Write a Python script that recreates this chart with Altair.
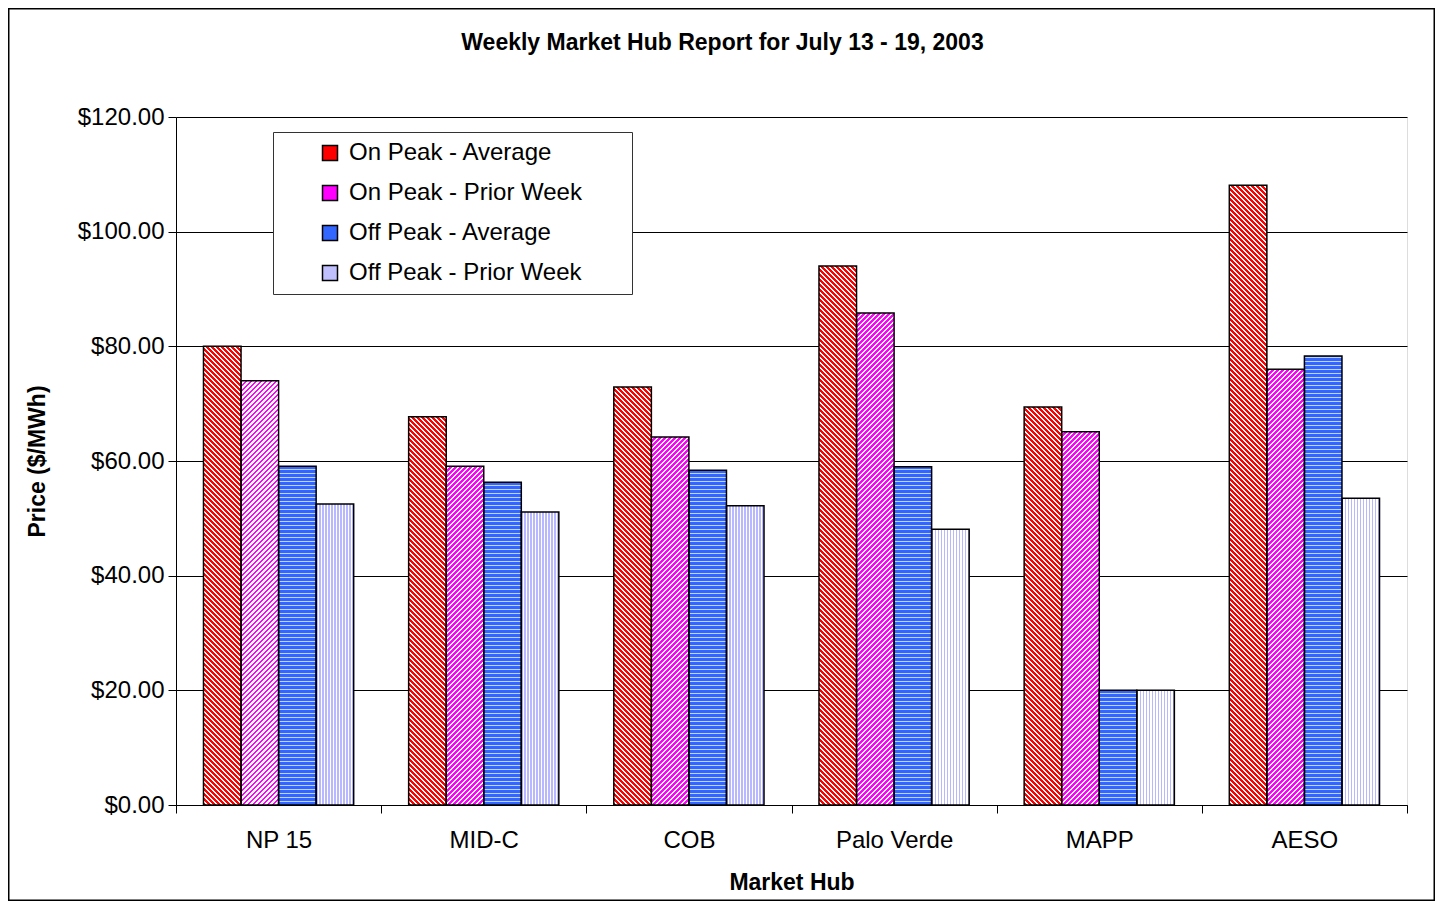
import math
import altair as alt
import pandas as pd

# ---------------- data ----------------
hubs = ["NP 15", "MID-C", "COB", "Palo Verde", "MAPP", "AESO"]
series = ["On Peak - Average", "On Peak - Prior Week", "Off Peak - Average", "Off Peak - Prior Week"]
on_peak_avg = [80.0, 67.7, 72.9, 94.0, 69.4, 108.1]
on_peak_prior = [74.0, 59.1, 64.2, 85.8, 65.1, 76.0]
off_peak_avg = [59.1, 56.3, 58.4, 59.0, 20.0, 78.3]
off_peak_prior = [52.5, 51.1, 52.2, 48.1, 20.0, 53.5]
y_ticks = [0, 20, 40, 60, 80, 100, 120]

values_by_series = {
    series[0]: on_peak_avg,
    series[1]: on_peak_prior,
    series[2]: off_peak_avg,
    series[3]: off_peak_prior,
}
rows = []
for s in series:
    for h, v in zip(hubs, values_by_series[s]):
        rows.append({"hub": h, "series": s, "price": v})
df = pd.DataFrame(rows)

# ---------------- layout ----------------
PLOT_W, PLOT_H = 1231, 688
Y_MAX = 120
OFFSET_PAD_OUTER = 0.732
STEP = PLOT_W / len(hubs)
BAR_W = STEP / (len(series) + 2 * OFFSET_PAD_OUTER)
SEG_PX = 40.0                      # hatch tiles are 40px tall
SEG = SEG_PX * Y_MAX / PLOT_H      # same tile height in price units

solid = ["#ff0000", "#ff00ff", "#3366ff", "#c0c0ff"]


def stops_phase(L, px, frac, phase, c1, c2):
    out = []
    s0 = phase + math.floor(-phase / px) * px
    while s0 < L:
        for a, b, col in ((s0, s0 + frac * px, c1), (s0 + frac * px, s0 + px, c2)):
            a2, b2 = max(a, 0.0), min(b, L)
            if b2 > a2:
                out.append(alt.GradientStop(offset=round(a2 / L, 5), color=col))
                out.append(alt.GradientStop(offset=round(b2 / L, 5), color=col))
        s0 += px
    return out


def hatch(series_idx, h):
    w = BAR_W
    if series_idx in (0, 1):
        L = w + h
        k = L / (w * w + h * h)
        if series_idx == 0:   # "\" stripes, anchored at bottom-left
            x1, y1, x2, y2 = 0, 1, k * w, 1 - k * h
            stops = stops_phase(L, 5.0, 0.58, 0.0, "#ff0000", "#ffffff")
        else:                 # "/" stripes, anchored at bottom-left
            x1, y1, x2, y2 = 0, 0, k * w, k * h
            stops = stops_phase(L, 5.0, 0.58, h % 5.0, "#ff00ff", "#ffffff")
        return alt.LinearGradient(gradient="linear", stops=stops,
                                  x1=round(x1, 6), y1=round(y1, 6),
                                  x2=round(x2, 6), y2=round(y2, 6))
    if series_idx == 2:       # horizontal stripes from the base upward
        return alt.LinearGradient(gradient="linear",
                                  stops=stops_phase(h, 4.0, 0.75, 0.0, "#3366ff", "#c0d2ff"),
                                  x1=0, y1=1, x2=0, y2=0)
    return alt.LinearGradient(gradient="linear",
                              stops=stops_phase(w, 3.0, 0.5, 0.0, "#b8b8ff", "#ffffff"),
                              x1=0, y1=0, x2=1, y2=0)


FONT = "Liberation Sans"

X = alt.X(
    "hub:N",
    scale=alt.Scale(domain=hubs, paddingInner=0, paddingOuter=0),
    axis=alt.Axis(
        labelAngle=0, labelFontSize=24, labelColor="black", labelFont=FONT,
        tickBand="extent", tickSize=8, tickColor="black", domainColor="black",
        labelPadding=15, grid=False, titleFontSize=23, titleFontWeight="bold",
        titleFont=FONT, titleColor="black", titlePadding=19,
    ),
    title="Market Hub",
)
XO = alt.XOffset(
    "series:N",
    scale=alt.Scale(domain=series, paddingInner=0, paddingOuter=OFFSET_PAD_OUTER),
)
Y_SCALE = alt.Scale(domain=[0, Y_MAX], nice=False)
Y_AXIS = alt.Axis(
    values=y_ticks, format="$.2f", labelFontSize=24, labelColor="black",
    labelFont=FONT, tickSize=8, tickColor="black", domainColor="black",
    labelPadding=4, grid=True, gridColor="black", gridWidth=1,
    titleFontSize=23, titleFontWeight="bold", titleFont=FONT,
    titleColor="black", titlePadding=28,
)


def Yf(field):
    return alt.Y(f"{field}:Q", scale=Y_SCALE, axis=Y_AXIS, title="Price ($/MWh)")


legend = alt.Legend(
    orient="none", legendX=97, legendY=15,
    title=" ", titleOrient="right", titlePadding=41, titleFontSize=24,
    symbolType="square", symbolSize=225, symbolStrokeColor="black",
    symbolStrokeWidth=1.5, symbolOffset=36, labelOffset=7, labelLimit=500,
    labelFontSize=24, labelFont=FONT, labelColor="black",
    fillColor="white", strokeColor="#333333", padding=9, rowPadding=16,
)

base = alt.Chart().mark_bar().encode(
    x=X, xOffset=XO, y=Yf("price"),
    color=alt.Color("series:N", scale=alt.Scale(domain=series, range=solid), legend=legend),
)
layers = [base]

seg_lit = repr(SEG)
# full-height hatch tiles (identical for every bar of a series)
for si in (0, 1, 2):
    s = series[si]
    layers.append(
        alt.Chart()
        .transform_filter(alt.datum.series == s)
        .transform_calculate(seg=f"sequence(0, floor(datum.price / {seg_lit}))")
        .transform_flatten(["seg"])
        .transform_calculate(y0=f"datum.seg * {seg_lit}", y1=f"(datum.seg + 1) * {seg_lit}")
        .mark_bar(fill=hatch(si, SEG_PX), strokeWidth=0)
        .encode(x=X, xOffset=XO, y=Yf("y0"), y2="y1:Q")
    )
    # the partial tile at the top of each bar
    for hi, hub in enumerate(hubs):
        v = values_by_series[s][hi]
        rem_px = (v - math.floor(v / SEG) * SEG) / Y_MAX * PLOT_H
        if rem_px <= 0.01:
            continue
        layers.append(
            alt.Chart()
            .transform_filter((alt.datum.hub == hub) & (alt.datum.series == s))
            .transform_calculate(y0=f"floor(datum.price / {seg_lit}) * {seg_lit}")
            .mark_bar(fill=hatch(si, rem_px), strokeWidth=0)
            .encode(x=X, xOffset=XO, y=Yf("y0"), y2="price:Q")
        )

# vertical stripes do not depend on bar height
layers.append(
    alt.Chart()
    .transform_filter(alt.datum.series == series[3])
    .mark_bar(fill=hatch(3, 1.0), strokeWidth=0)
    .encode(x=X, xOffset=XO, y=Yf("price"))
)

# black outlines
layers.append(
    alt.Chart().mark_bar(fillOpacity=0, stroke="black", strokeWidth=1.5)
    .encode(x=X, xOffset=XO, y=Yf("price"))
)

frame = alt.Chart(alt.Data(values=[{"f": 1}])).mark_rect(
    fillOpacity=0, stroke="black", strokeWidth=1.5
).encode(
    x=alt.value(-167.25), x2=alt.value(PLOT_W + 27.25),
    y=alt.value(-108.25), y2=alt.value(PLOT_H + 95.25),
)
layers.append(frame)

chart = (
    alt.layer(*layers, data=df)
    .properties(
        width=PLOT_W,
        height=PLOT_H,
        padding={"left": 168, "top": 109, "right": 28, "bottom": 96},
        autosize=alt.AutoSizeParams(type="none"),
        title=alt.TitleParams(
            "Weekly Market Hub Report for July 13 - 19,  2003",
            fontSize=23, fontWeight="bold", font=FONT, color="black",
            anchor="middle", dx=-69, offset=-65, baseline="alphabetic",
        ),
    )
    .configure_view(stroke="#808080", strokeWidth=1.5)
    .configure(font=FONT)
)

chart.save("out.html", embed_options={"renderer": "svg", "actions": False})
